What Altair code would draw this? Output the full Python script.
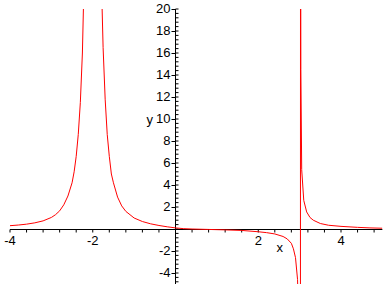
import altair as alt
import pandas as pd

# Curve values
curve_x = [-4.0, -3.8, -3.6, -3.4, -3.2, -3.0, -2.9, -2.8, -2.7, -2.6, -2.5, -2.45, -2.4,
           -2.35, -2.3, -2.25, -2.22,
           -1.78, -1.75, -1.7, -1.65, -1.6, -1.55, -1.5, -1.4, -1.3, -1.2, -1.0, -0.8,
           -0.6, -0.4, -0.2, 0.0, 0.2, 0.4, 0.8, 1.2, 1.6, 2.0, 2.2, 2.4, 2.6, 2.7, 2.8,
           2.85, 2.9, 2.95, 2.97, 3.018,
           3.022, 3.03, 3.05, 3.1, 3.17, 3.25, 3.33, 3.5, 3.7, 4.0, 4.4, 4.7, 5.0]
curve_y = [0.30, 0.36, 0.44, 0.56, 0.74, 1.05, 1.3, 1.65, 2.2, 3.0, 4.2, 5.2, 6.6,
           8.6, 11.5, 16.0, 21.0,
           21.0, 16.5, 11.8, 8.6, 6.6, 5.0, 4.2, 2.9, 2.1, 1.6, 1.0, 0.68,
           0.47, 0.32, 0.2, 0.1, 0.03, 0.0, -0.04, -0.08, -0.13, -0.25, -0.33, -0.45, -0.68, -0.9, -1.3,
           -1.8, -2.6, -4.6, -8.0, -40.0,
           40.0, 14.5, 5.4, 2.6, 1.55, 1.05, 0.8, 0.5, 0.34, 0.24, 0.15, 0.1, 0.07]

x_major = [-4, -2, 2, 4]
x_minor = [round(-4 + 0.4 * k, 2) for k in range(23)]
y_major = [-4, -2, 2, 4, 6, 8, 10, 12, 14, 16, 18, 20]
y_minor = [round(-4.8 + 0.4 * k, 2) for k in range(63)]

X_DOMAIN = [-4, 5]
Y_DOMAIN = [-5, 20]
FONT = "Liberation Sans"

xs = alt.Scale(domain=X_DOMAIN, nice=False, zero=False)
ys = alt.Scale(domain=Y_DOMAIN, nice=False, zero=False)

curve_df = pd.DataFrame({"x": curve_x, "y": curve_y, "i": list(range(len(curve_x)))})

X = lambda f: alt.X(f, type="quantitative", scale=xs, axis=None)
Y = lambda f: alt.Y(f, type="quantitative", scale=ys, axis=None)

# axis lines
xaxis = alt.Chart(pd.DataFrame({"x": [X_DOMAIN[0]], "x2": [X_DOMAIN[1]], "y": [0]})).mark_rule(
    color="black", strokeWidth=1, yOffset=0.5, y2Offset=0.5
).encode(x=X("x"), x2="x2:Q", y=Y("y"))
yaxis = alt.Chart(pd.DataFrame({"x": [0], "y": [Y_DOMAIN[0]], "y2": [Y_DOMAIN[1]]})).mark_rule(
    color="black", strokeWidth=1
).encode(x=X("x"), y=Y("y"), y2="y2:Q")

# x ticks (downward)
xt_df = pd.DataFrame({"x": x_minor, "y": [0] * len(x_minor)})
xticks = alt.Chart(xt_df).mark_rule(color="black", strokeWidth=1, yOffset=0.5, y2Offset=3.5).encode(
    x=X("x"), y=Y("y"), y2="y:Q"
)
# y major ticks (left), minor ticks (right)
ymaj_df = pd.DataFrame({"y": y_major, "x": [0] * len(y_major)})
ymajor = alt.Chart(ymaj_df).mark_rule(color="black", strokeWidth=1, xOffset=0, x2Offset=-4,
                                      yOffset=0.5, y2Offset=0.5).encode(
    x=X("x"), x2="x:Q", y=Y("y"))
ymin_df = pd.DataFrame({"y": y_minor, "x": [0] * len(y_minor)})
yminor = alt.Chart(ymin_df).mark_rule(color="black", strokeWidth=1, xOffset=0, x2Offset=3).encode(
    x=X("x"), x2="x:Q", y=Y("y"))

# tick labels
xl_df = pd.DataFrame({"x": x_major, "y": [0] * len(x_major), "t": [str(v) for v in x_major]})
xlabels = alt.Chart(xl_df).mark_text(font=FONT, fontSize=13, align="center", baseline="alphabetic",
                                     dy=16, color="black").encode(x=X("x"), y=Y("y"), text="t:N")
yl_df = pd.DataFrame({"y": y_major, "x": [0] * len(y_major), "t": [str(v) for v in y_major]})
ylabels = alt.Chart(yl_df).mark_text(font=FONT, fontSize=13, align="right", baseline="middle",
                                     dx=-5, color="black").encode(x=X("x"), y=Y("y"), text="t:N")

# axis titles
titles_df = pd.DataFrame({"x": [2.52, -0.62], "y": [-1.75, 9.9], "t": ["x", "y"]})
titles = alt.Chart(titles_df).mark_text(font=FONT, fontSize=13, align="center", baseline="middle",
                                        color="black").encode(x=X("x"), y=Y("y"), text="t:N")

curve = alt.Chart(curve_df).mark_line(color="#ff0000", strokeWidth=1, clip=True).encode(
    x=X("x"), y=Y("y"), order="i:Q")

chart = alt.layer(xaxis, yaxis, xticks, ymajor, yminor, xlabels, ylabels, titles, curve).properties(
    width=372.375, height=275,
    autosize=alt.AutoSizeParams(type="none"),
    padding={"left": 10, "top": 9, "right": 5, "bottom": 4},
    background="white",
).configure_view(stroke=None)

chart.save("out.html", embed_options={"renderer": "svg", "actions": False})
